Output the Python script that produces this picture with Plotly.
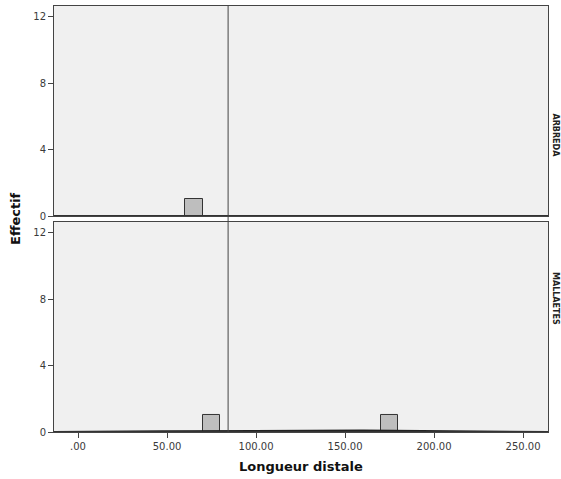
import numpy as np
import plotly.graph_objects as go

# Data
groups = ["ARBREDA", "MALLAETES"]
bin_width = 10
arbreda_bins = [65]          # bin centres
arbreda_counts = [1]
mallaetes_bins = [75, 175]
mallaetes_counts = [1, 1]
ref_line_x = [84.3]
x_tickvals = [0, 50, 100, 150, 200, 250]
x_ticktext = [".00", "50.00", "100.00", "150.00", "200.00", "250.00"]
y_tickvals = [0, 4, 8, 12]

fig = go.Figure()

bar_style = dict(marker=dict(color="#bebebe", line=dict(color="#333333", width=1)),
                 width=bin_width, showlegend=False, hoverinfo="skip")

fig.add_trace(go.Bar(x=arbreda_bins, y=arbreda_counts, xaxis="x", yaxis="y", **bar_style))
fig.add_trace(go.Bar(x=mallaetes_bins, y=mallaetes_counts, xaxis="x2", yaxis="y2", **bar_style))

# Normal curve fitted to the MALLAETES values
vals = np.repeat(mallaetes_bins, mallaetes_counts).astype(float)
mu, sd = vals.mean(), vals.std(ddof=1)
xs = np.linspace(-13.5, 264, 300)
ys = len(vals) * bin_width * np.exp(-0.5 * ((xs - mu) / sd) ** 2) / (sd * np.sqrt(2 * np.pi))
fig.add_trace(go.Scatter(x=xs, y=ys, mode="lines", line=dict(color="#222222", width=1.5),
                         xaxis="x2", yaxis="y2", showlegend=False, hoverinfo="skip"))

xr = [-13.5, 264]
yr = [0, 12.65]
tickfont = dict(family="DejaVu Sans", size=10, color="#3a3a3a")
common_x = dict(range=xr, showgrid=False, zeroline=False, showline=True, linecolor="#444444",
                linewidth=1, mirror=True, tickvals=x_tickvals, ticktext=x_ticktext,
                ticklen=5, tickcolor="#444444", tickfont=tickfont, automargin=False)
common_y = dict(range=yr, showgrid=False, zeroline=False, showline=True, linecolor="#444444",
                linewidth=1, mirror=True, tickvals=y_tickvals, ticks="outside", ticklen=5,
                tickcolor="#444444", tickfont=tickfont, automargin=False)

fig.update_layout(
    width=561, height=479,
    margin=dict(l=54, r=13, t=6, b=47, autoexpand=False),
    paper_bgcolor="white",
    plot_bgcolor="#f0f0f0",
    bargap=0,
    xaxis=dict(domain=[0, 1], anchor="y", showticklabels=False, ticks="", **common_x),
    yaxis=dict(domain=[0.507, 1], anchor="x", **common_y),
    xaxis2=dict(domain=[0, 1], anchor="y2", matches="x", ticks="outside", **common_x),
    yaxis2=dict(domain=[0, 0.493], anchor="x2", **common_y),
    font=dict(family="DejaVu Sans"),
)

# Outer bottom axis line emphasis
for yref in ("y", "y2"):
    fig.add_shape(type="line", xref="paper", yref=yref, x0=0, x1=1, y0=0, y1=0,
                  line=dict(color="#333333", width=2))

# Reference line through both panels
for xv in ref_line_x:
    fig.add_shape(type="line", xref="x", yref="paper", x0=xv, x1=xv, y0=0, y1=1,
                  line=dict(color="#444444", width=1))

# Panel labels
fig.add_annotation(text="<b>ARBREDA</b>", xref="paper", yref="paper", x=1.0, y=(0.507 + 1) / 2,
                   xanchor="left", xshift=1, showarrow=False, textangle=90,
                   font=dict(family="DejaVu Sans", size=8, color="#222222"))
fig.add_annotation(text="<b>MALLAETES</b>", xref="paper", yref="paper", x=1.0, y=0.493 / 2,
                   xanchor="left", xshift=1, showarrow=False, textangle=90,
                   font=dict(family="DejaVu Sans", size=8, color="#222222"))

# Axis titles
fig.add_annotation(text="<b>Effectif</b>", xref="paper", yref="paper", x=0, y=0.5,
                   xanchor="center", xshift=-39, showarrow=False, textangle=-90,
                   font=dict(family="DejaVu Sans", size=13, color="#111111"))
fig.add_annotation(text="<b>Longueur distale</b>", xref="paper", yref="paper", x=0.5, y=0,
                   yanchor="middle", yshift=-34, showarrow=False,
                   font=dict(family="DejaVu Sans", size=13, color="#111111"))

fig.write_html("out.html", config={"displayModeBar": False},
               post_script="document.body.style.margin='0px';document.body.style.overflow='hidden';")
